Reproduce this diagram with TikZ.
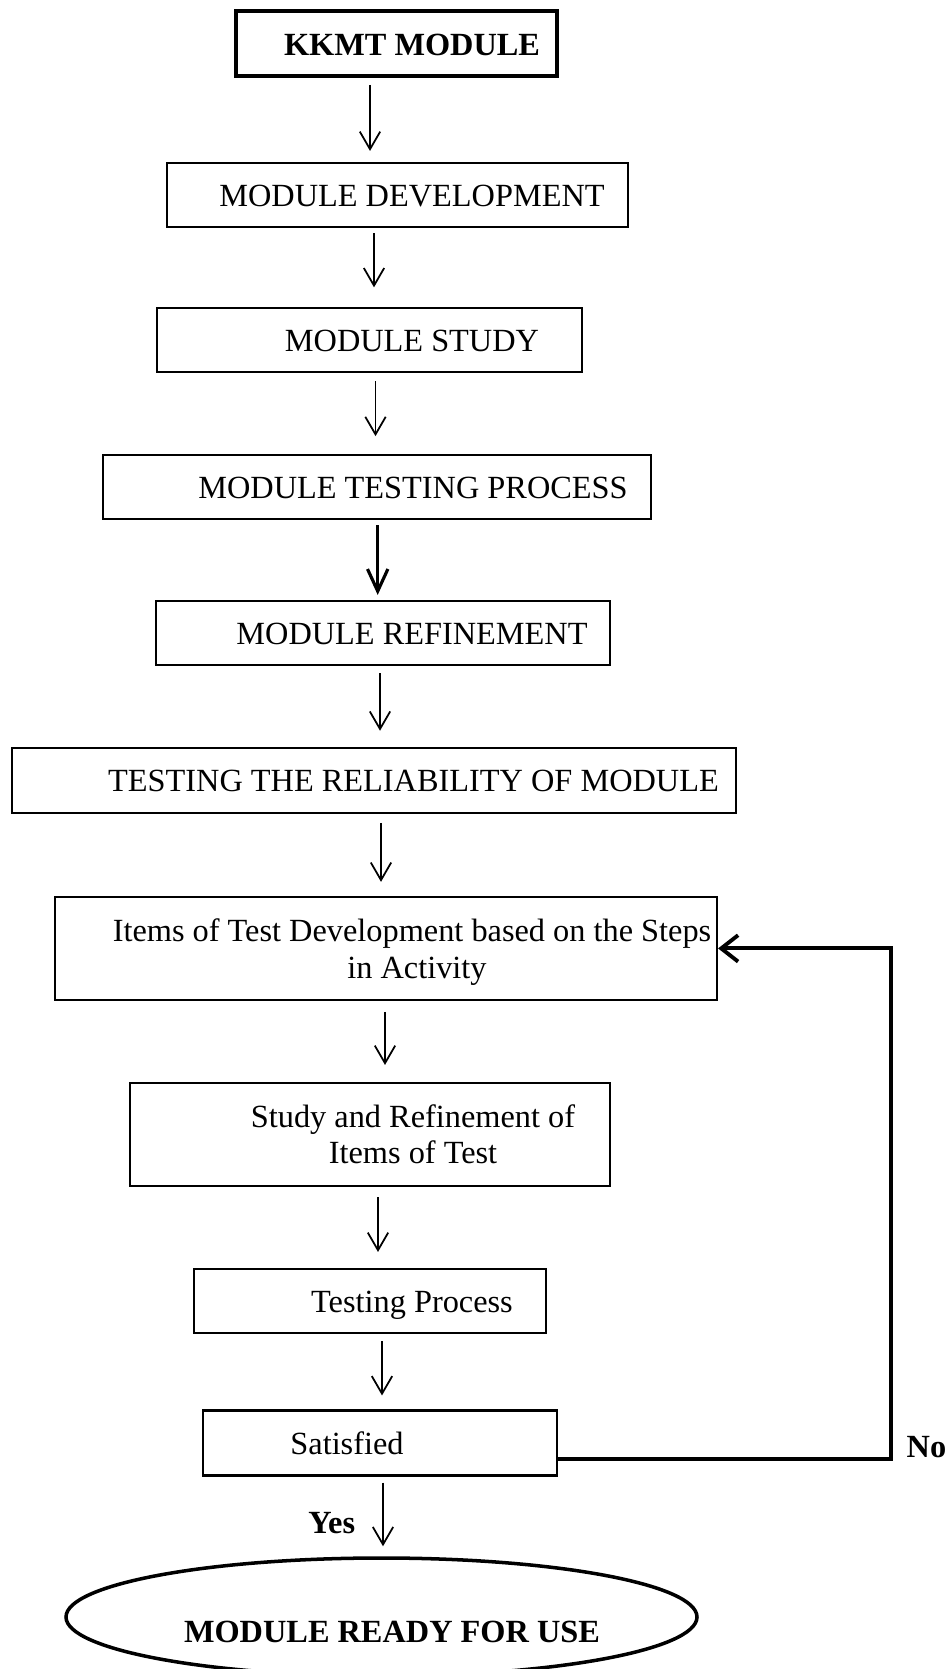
\documentclass[tikz,border=0pt]{standalone}
\usepackage{fontspec}
\setmainfont{Liberation Serif}
\usetikzlibrary{arrows.meta,shapes.geometric,calc}
\newcommand{\flowfont}{\fontsize{9.2}{10.3}\selectfont}

\begin{document}
\begin{tikzpicture}[
    >={Straight Barb[length=5pt,width=5.8pt]},
    stepbox/.style={draw, line width=0.6pt, minimum height=0.64cm, inner sep=0pt,
        text height=0.66em, text depth=0pt, font=\flowfont},
    twobox/.style={draw, line width=0.6pt, minimum height=1.03cm, inner sep=0pt,
        align=center, font=\flowfont},
    arr/.style={->, line width=0.5pt},
    lbl/.style={inner sep=0pt, font=\flowfont\bfseries}
]
    \useasboundingbox (0,0) rectangle (9.5,-16.69);
    \clip (0,0) rectangle (9.5,-16.69);

    % ---------------- Module steps ----------------
    \node[stepbox, line width=1pt, minimum width=3.21cm, minimum height=0.65cm,
        font=\flowfont\bfseries] (kkmt) at (3.965,-0.435) {\hspace*{0.31cm}KKMT MODULE};
    \node[stepbox, minimum width=4.61cm] (dev) at (3.975,-1.95) {\hspace*{0.29cm}MODULE DEVELOPMENT};
    \node[stepbox, minimum width=4.25cm] (study) at (3.695,-3.404) {\hspace*{0.85cm}MODULE STUDY};
    \node[stepbox, minimum width=5.48cm] (tproc) at (3.77,-4.872) {\hspace*{0.72cm}MODULE TESTING PROCESS};
    \node[stepbox, minimum width=4.54cm] (refine) at (3.83,-6.33) {\hspace*{0.58cm}MODULE REFINEMENT};
    \node[stepbox, minimum width=7.24cm, minimum height=0.65cm] (rel) at (3.74,-7.803)
        {\hspace*{0.79cm}TESTING THE RELIABILITY OF MODULE};

    % ---------------- Test items ----------------
    \node[twobox, minimum width=6.62cm] (items) at (3.86,-9.484)
        {\rule{0pt}{0.30cm}\hspace*{0.52cm}Items of Test Development based on the Steps\\\hspace*{0.62cm}in Activity};
    \node[twobox, minimum width=4.80cm] (stref) at (3.70,-11.345)
        {\hspace*{0.86cm}Study and Refinement of\\\hspace*{0.86cm}Items of Test};
    \node[stepbox, minimum width=3.52cm] (tp) at (3.70,-13.01) {\hspace*{0.84cm}Testing Process};
    \node[stepbox, minimum width=3.54cm, minimum height=0.65cm] (sat) at (3.80,-14.43) {Satisfied\hspace*{0.66cm}};

    % ---------------- End ----------------
    \node[draw, ellipse, line width=1pt, minimum width=6.31cm, minimum height=1.18cm,
        inner sep=0pt, text height=0.5cm, text depth=0pt, font=\flowfont\bfseries]
        (ready) at (3.815,-16.17) {\hspace*{0.21cm}MODULE READY FOR USE};

    % ---------------- Arrows ----------------
    \foreach \a/\b/\x/\s/\e in {kkmt/dev/3.70/0.07cm/0.11cm, dev/study/3.74/0.05cm/0.20cm,
        study/tproc/3.755/0.08cm/0.18cm, refine/rel/3.80/0.07cm/0.16cm,
        rel/items/3.81/0.09cm/0.14cm, items/stref/3.85/0.11cm/0.17cm,
        stref/tp/3.78/0.10cm/0.16cm, tp/sat/3.82/0.07cm/0.14cm} {
        \draw[arr, shorten <=\s, shorten >=\e] (\a.south -| \x,0) -- (\b.north -| \x,0);
    }
    \draw[-{Straight Barb[length=6.3pt,width=5.8pt]}, line width=0.9pt, shorten <=0.05cm, shorten >=0.05cm]
        (tproc.south -| 3.777,0) -- (refine.north -| 3.777,0);
    \draw[arr, shorten <=0.06cm, shorten >=0.10cm] (sat.south -| 3.83,0)
        -- node[lbl, left=0.27cm, yshift=-0.07cm] (yes) {Yes} (ready.north -| 3.83,0);

    % ---------------- Feedback (No) ----------------
    \coordinate (turn) at (8.91,-14.59);
    \draw[line width=1.1pt, -{Straight Barb[length=4.8pt,width=7.5pt]}]
        (sat.east |- turn) -- (turn) |- (items.east);
    \node[lbl, anchor=base west] (no) at (9.06,-14.57) {No};

\end{tikzpicture}
\end{document}
